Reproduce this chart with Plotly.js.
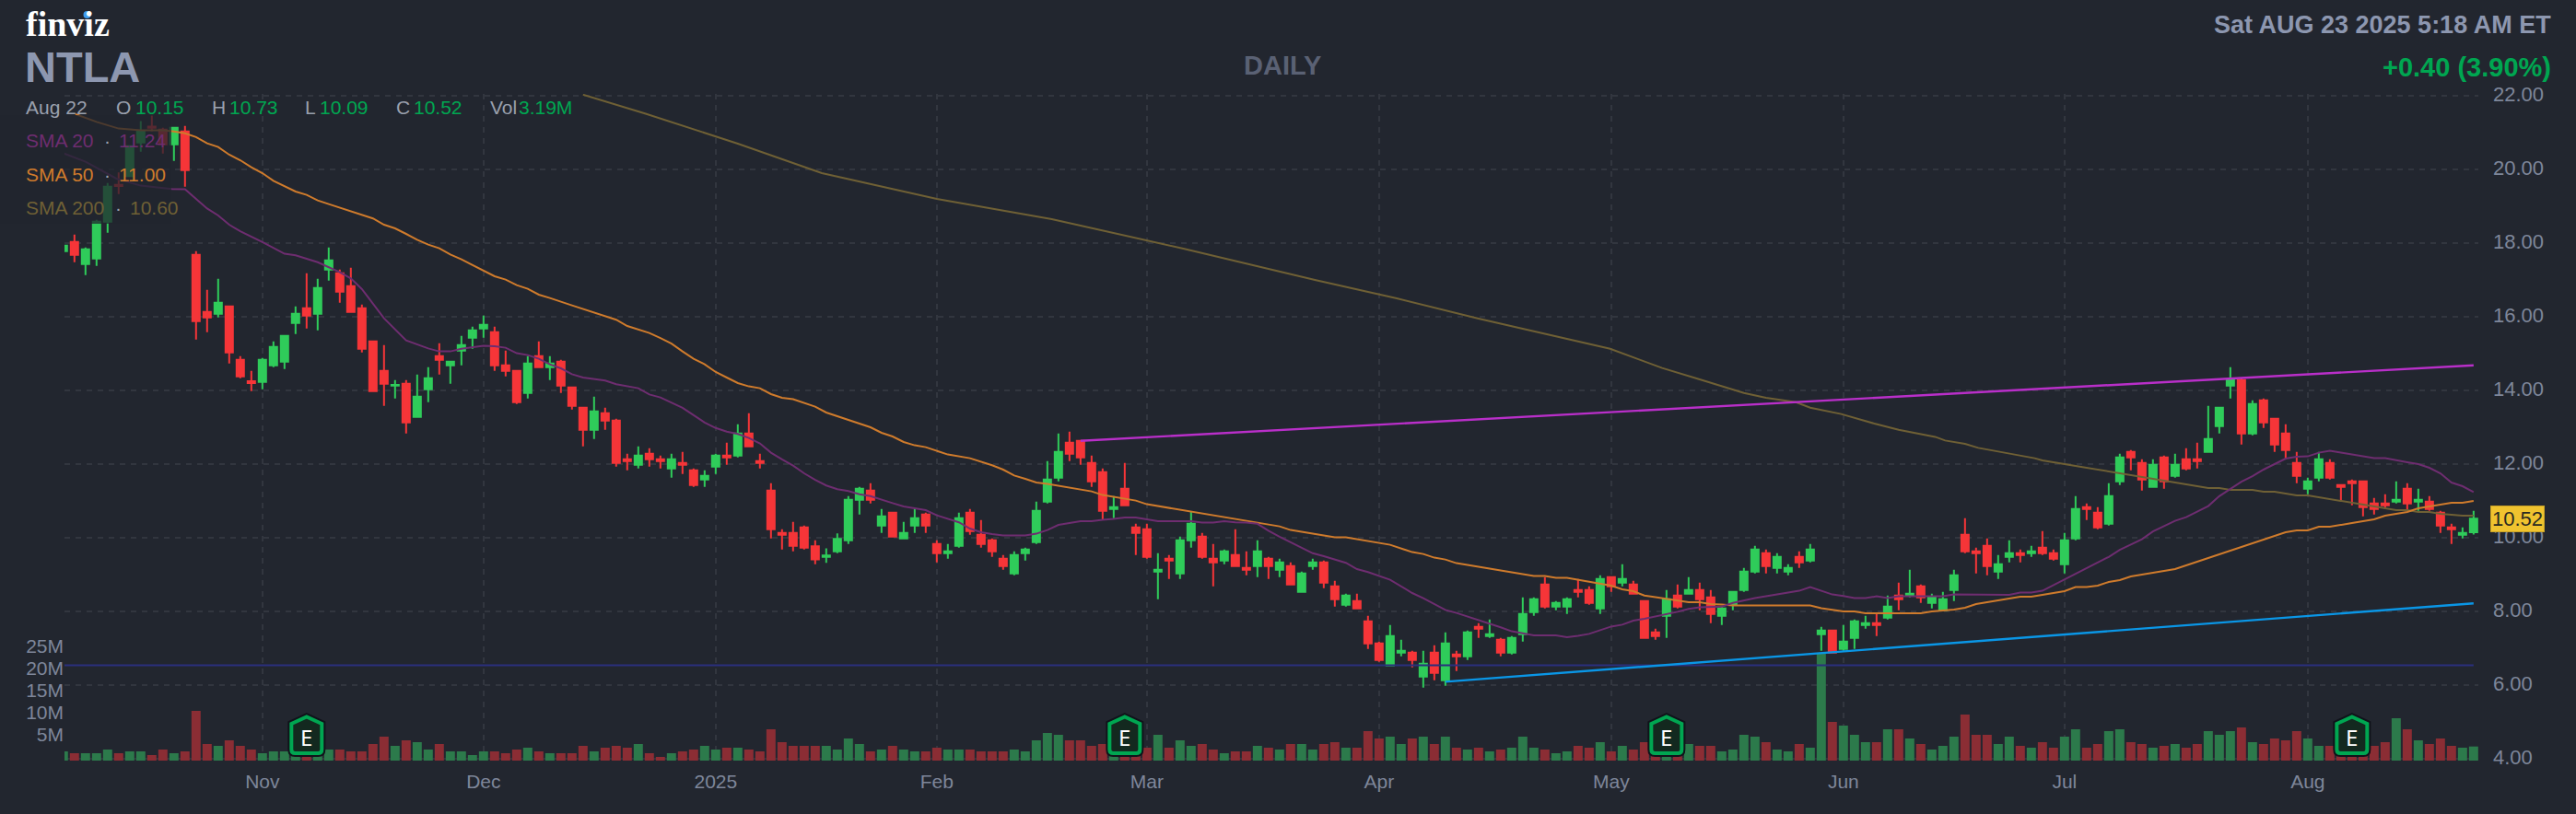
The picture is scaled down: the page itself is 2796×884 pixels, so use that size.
<!DOCTYPE html>
<html><head><meta charset="utf-8">
<script src="https://cdn.plot.ly/plotly-3.0.1.min.js"></script>
<style>html,body{margin:0;padding:0;background:#22262f}#c{width:2796px;height:884px}</style>
</head><body><div id="c"></div>
<script>
// ---- DATA ----
const open = [
17.78,18.03,17.43,17.58,18.58,19.58,19.82,20.73,21.16,21.08,
20.68,21.03,17.68,16.13,16.08,16.28,14.83,14.25,14.23,14.68,
14.78,15.83,16.23,16.08,17.28,17.18,16.83,16.23,15.33,14.53,
14.13,14.18,13.28,14.03,14.93,14.68,15.08,15.43,15.68,15.58,
14.68,14.53,13.93,14.93,14.63,14.78,14.08,13.53,12.93,13.38,
13.18,12.13,11.98,12.28,12.13,11.88,12.03,11.83,11.58,11.93,
12.23,12.23,12.83,12.08,11.28,10.13,10.13,10.28,9.77,9.48,
9.63,9.93,11.03,11.28,10.33,10.68,9.98,10.33,10.63,9.83,
9.58,9.78,10.68,10.08,9.93,9.43,9.03,9.58,9.88,10.98,
11.63,12.58,12.63,12.03,11.78,10.78,11.33,10.28,10.23,9.08,
9.43,9.03,9.93,10.03,9.43,9.38,9.53,9.18,9.23,9.43,
9.13,9.23,8.53,9.23,9.33,8.68,8.18,8.28,7.73,7.13,
6.53,6.88,6.88,6.23,6.88,6.13,6.83,6.78,7.58,7.33,
7.23,6.88,7.38,7.98,8.73,8.13,8.13,8.58,8.58,8.08,
8.93,8.78,8.73,8.28,7.43,7.88,8.43,8.48,8.58,8.38,
7.88,8.18,8.58,9.08,9.58,9.18,9.08,9.48,9.38,7.38,
7.48,6.98,7.28,7.63,7.68,7.83,8.43,8.43,8.68,8.23,
8.03,8.58,10.08,9.63,9.78,9.08,9.48,9.58,9.58,9.73,
9.58,9.28,9.98,10.83,10.68,10.38,11.53,12.33,12.03,11.38,
12.18,11.68,12.13,12.13,12.33,13.03,14.13,14.28,12.83,13.73,
13.23,12.83,12.03,11.33,11.63,12.03,11.43,11.53,11.53,10.93,
10.93,10.98,11.33,10.98,10.98,10.68,10.28,10.08,10.15];
const high = [
17.93,18.23,17.88,18.63,19.63,19.92,20.65,21.31,21.46,21.13,
21.13,21.18,17.78,16.73,17.03,16.28,14.93,14.53,14.88,15.33,
15.48,16.28,17.18,17.03,17.88,17.28,17.33,16.33,15.33,15.23,
14.28,14.28,14.43,14.63,15.28,14.78,15.48,15.73,16.03,15.73,
15.08,14.53,14.93,15.33,14.93,14.83,14.08,13.53,13.83,13.53,
13.23,12.28,12.48,12.43,12.23,12.28,12.33,11.88,11.83,12.28,
12.58,13.08,13.38,12.28,11.48,10.23,10.43,10.33,9.93,9.71,
10.12,11.13,11.38,11.48,10.78,10.68,10.43,10.78,10.68,9.93,
9.83,10.68,10.78,10.48,9.98,9.53,9.63,9.73,10.98,12.08,
12.83,12.88,12.63,12.23,11.88,11.13,12.03,10.38,10.38,9.58,
9.53,10.03,10.71,10.13,9.83,9.68,10.23,9.63,9.93,9.48,
9.43,9.33,9.08,9.43,9.38,8.83,8.48,8.48,7.88,7.18,
7.63,7.23,6.93,6.93,7.08,7.43,6.93,7.48,7.68,7.78,
7.28,7.33,8.38,8.38,8.93,8.28,8.38,8.88,8.68,8.98,
8.93,9.28,8.83,8.28,7.53,8.58,8.73,8.93,8.78,8.58,
8.13,8.53,9.18,9.78,9.68,9.58,9.28,9.63,9.83,7.58,
7.48,7.63,7.78,7.88,7.93,8.43,8.78,9.13,8.73,8.48,
8.53,9.13,10.53,9.73,9.98,9.53,9.93,9.68,9.78,10.18,
9.68,10.13,11.13,10.93,10.83,11.48,12.28,12.38,12.13,12.13,
12.23,12.28,12.43,12.58,13.58,13.53,14.63,14.33,13.73,13.78,
13.23,13.08,12.33,11.63,12.33,12.13,11.43,11.58,11.53,11.08,
11.18,11.53,11.48,11.33,11.13,10.73,10.38,10.28,10.73];
const low = [
17.78,17.48,17.13,17.38,18.28,19.33,19.8,20.48,21.04,20.43,
20.23,19.53,15.38,15.58,15.98,14.73,14.33,13.98,14.03,14.63,
14.58,15.53,15.68,15.63,16.98,16.38,16.12,15.03,13.98,13.58,
13.78,12.83,13.28,13.68,14.43,14.18,14.68,15.13,15.43,14.53,
14.38,13.63,13.78,14.62,14.28,13.93,13.48,12.48,12.68,12.93,
11.93,11.83,11.88,11.93,11.88,11.63,11.73,11.38,11.38,11.73,
11.98,12.18,12.47,11.88,9.98,9.68,9.63,9.68,9.28,9.32,
9.58,9.83,10.63,10.93,10.13,10.02,9.97,10.13,10.13,9.33,
9.43,9.73,10.08,9.73,9.48,9.13,8.98,9.38,9.83,10.93,
11.53,12.08,11.98,11.38,10.48,10.53,10.87,9.53,9.43,8.33,
8.88,8.88,9.73,9.43,8.68,9.28,9.22,8.98,8.93,8.88,
8.93,8.72,8.52,9.13,8.63,8.13,8.13,8.07,6.98,6.63,
6.52,6.78,6.48,5.93,6.13,5.98,6.38,6.68,7.28,7.28,
6.78,6.83,7.18,7.88,8.08,8.03,7.93,8.38,8.18,7.93,
8.53,8.68,8.47,7.28,7.23,7.28,8.08,8.47,8.03,7.68,
7.63,8.03,8.53,9.03,9.03,9.03,8.98,9.18,9.33,6.93,
6.87,6.93,6.98,7.53,7.33,7.78,8.03,8.38,8.23,8.08,
8.02,8.28,9.58,9.03,8.98,8.88,9.33,9.33,9.48,9.53,
9.38,9.03,9.93,10.48,10.23,10.33,11.43,11.83,11.28,11.37,
11.33,11.63,11.83,11.88,12.32,12.83,13.78,12.53,12.78,12.98,
12.33,12.13,11.48,11.18,11.53,11.58,10.98,10.88,10.58,10.63,
10.78,10.93,10.73,10.73,10.73,10.13,9.83,9.98,10.09];
const close = [
17.93,17.68,17.83,18.58,19.53,19.55,20.63,21.03,21.13,20.68,
21.13,19.98,15.88,15.98,16.38,15.03,14.38,14.2,14.83,15.18,
15.48,16.08,16.03,16.78,17.53,16.68,16.13,15.13,13.98,14.18,
14.15,13.13,13.83,14.33,14.83,14.78,15.23,15.63,15.78,14.68,
14.53,13.68,14.73,14.63,14.73,14.13,13.58,12.93,13.43,13.18,
12.03,12.08,12.23,12.13,12.08,12.13,11.98,11.43,11.68,12.23,
12.18,12.83,12.48,12.03,10.23,10.08,9.78,9.73,9.41,9.52,
9.97,11.03,11.33,11.03,10.58,10.03,10.13,10.53,10.33,9.58,
9.63,10.53,10.18,9.83,9.63,9.23,9.53,9.68,10.73,11.58,
12.33,12.28,12.18,11.53,10.73,10.83,10.88,10.13,9.48,9.13,
9.38,9.93,10.38,9.48,9.33,9.63,9.23,9.13,9.63,9.23,
9.33,8.73,9.03,9.33,8.78,8.33,8.43,8.08,7.13,6.68,
7.33,6.93,6.68,6.58,6.33,7.13,6.78,7.43,7.53,7.38,
6.88,7.28,7.93,8.33,8.13,8.23,8.33,8.53,8.23,8.88,
8.68,8.88,8.48,7.28,7.33,8.33,8.13,8.58,8.33,7.93,
8.08,8.53,9.08,9.68,9.23,9.48,9.18,9.33,9.68,7.48,
6.88,7.18,7.73,7.68,7.63,8.13,8.33,8.48,8.38,8.38,
8.33,8.98,9.63,9.58,9.23,9.28,9.58,9.53,9.63,9.58,
9.43,9.93,10.78,10.78,10.28,11.13,12.18,12.18,11.58,11.98,
11.53,11.98,11.88,12.08,12.68,13.53,14.28,12.83,13.63,13.13,
12.53,12.38,11.68,11.53,12.13,11.63,11.38,11.48,10.83,10.78,
10.88,11.03,10.93,11.03,10.78,10.33,10.23,10.13,10.52];
const volumeM = [
2.08,1.67,1.67,1.67,2.5,1.67,2.08,2.08,1.25,2.5,
1.67,2.08,11.25,3.75,3.33,4.58,3.33,2.5,1.67,2.08,
2.08,1.67,1.25,1.67,2.5,2.5,2.08,2.08,3.75,5.42,
3.33,4.58,4.17,2.5,3.75,2.08,2.08,1.25,2.08,2.08,
1.67,2.5,2.92,2.08,1.67,1.67,1.67,3.33,2.08,2.92,
3.33,2.92,3.75,1.67,0.83,1.67,2.08,2.5,3.33,2.5,
2.92,2.92,2.5,2.08,7.08,4.17,3.33,3.33,3.33,3.33,
2.5,5,3.75,2.08,2.5,3.33,2.5,2.08,2.08,2.92,
2.5,2.5,2.5,2.08,2.08,2.08,2.5,2.08,4.58,6.25,
5.83,4.58,4.58,3.33,3.75,1.25,1.25,1.25,2.92,5.83,
2.92,4.58,3.33,3.75,2.5,1.67,2.08,2.08,3.33,2.92,
2.5,3.75,3.75,2.5,3.75,4.17,2.92,2.92,6.67,5,
5.42,3.75,5,5.42,3.75,5.42,2.92,2.5,2.92,2.08,
2.5,2.92,5.42,2.92,2.5,1.67,2.08,3.33,2.92,4.17,
2.08,3.33,2.5,4.17,1.25,1.25,1.25,3.75,3.33,3.33,
2.08,2.5,5.83,5.42,4.17,2.5,2.08,3.75,2.92,24.17,
8.75,7.92,5.83,4.17,4.17,7.08,7.08,5,3.75,2.5,
3.33,5.42,10.42,5.83,5.83,3.75,5.42,3.33,2.92,4.17,
2.92,5.42,7.08,2.92,3.75,6.67,7.08,4.17,3.75,2.92,
3.33,3.75,2.92,3.75,6.67,5.83,6.67,7.5,4.17,3.75,
5,4.58,6.67,5,3.33,3.33,2.08,1.67,1.67,3.33,
4.17,9.58,7.08,4.58,3.75,5,3.33,2.92,3.19];
const sma20Points = [
[0,20.44],[2,20.21],[4.8,19.75],[7,19.56],[9.8,19.47],[11,19.46],[13,18.94],[14,18.75],[15,18.5],[16,18.32],[18,18.03],[20,17.71],[21,17.67],[23,17.48],[25,17.21],[26,17.04],[27,16.75],[29,15.96],[31,15.36],[33,15.14],[34,15.06],[35,15.06],
[36,15.13],[37,15.17],[38,15.21],[39,15.2],[40,15.16],[41,15.01],[42,14.96],[43,14.86],[44,14.71],[45,14.6],[46,14.44],[47,14.35],[49,14.27],[50,14.17],[52,14.06],[53,13.89],[54,13.81],[56,13.53],[57,13.32],[58,13.13],[59,12.98],[60,12.88],[61,12.82],[62,12.71],[63,12.56],[64,12.31],[65,12.13],[66,11.96],[67,11.75],[68,11.57],[69,11.42],[70,11.32],[71,11.27],
[72,11.18],[73,11.13],[74,11.03],[75,10.94],[76,10.85],[78,10.75],[79,10.61],[80,10.52],[81,10.42],[82,10.25],[83,10.15],[84,10.1],[85,10.06],[87,10.06],[88,10.11],[89,10.21],[90,10.35],[91,10.4],[92,10.45],[93,10.45],[94,10.49],[95,10.51],[96,10.55],[97,10.55],[98,10.5],[99,10.45],[102,10.45],[103,10.41],[104,10.41],[105,10.45],[106,10.42],[107,10.41],
[108,10.38],[109,10.19],[110,10.03],[111,9.88],[113,9.58],[114,9.5],[116,9.32],[117,9.15],[118,9.07],[120,8.86],[121,8.69],[122,8.5],[123,8.36],[124,8.21],[125,8.04],[126,7.96],[128,7.77],[129,7.67],[130,7.57],[131,7.46],[132,7.4],[133,7.35],[135,7.35],[136,7.3],[137,7.34],[138,7.39],[139,7.49],[140,7.59],[141,7.64],[142,7.75],[143,7.8],
[145,7.92],[146,7.99],[147,8.07],[148,8.11],[150,8.13],[151,8.23],[153,8.36],[155,8.46],[157,8.56],[158,8.66],[159,8.56],[160,8.46],[161,8.42],[162,8.36],[163,8.36],[164,8.41],[165,8.36],[166,8.41],[168,8.41],[170,8.41],[171,8.46],[173,8.45],[176,8.45],[177,8.51],[178,8.51],
[179,8.56],[180,8.71],[181,8.86],[182,9.02],[183,9.17],[185,9.48],[186,9.67],[188,9.96],[189,10.17],[190,10.31],[191,10.46],[192,10.56],[193,10.71],[194,10.86],[195,11.13],[196,11.33],[197,11.52],[198,11.67],[199,11.85],[200,12],[201,12.15],[202,12.2],[203,12.21],[204,12.31],[205,12.36],[206,12.31],[207,12.26],[208,12.21],[209,12.16],[210,12.16],[211,12.1],[212,12.05],[213,12],[214,11.9],[215,11.75],[216,11.5],[217,11.4],[218,11.24]];
const sma50Points = [
[1.1,21.5],[3,21.29],[5,21.11],[7,21.06],[9,21.06],[10,21.03],[11,20.98],[12,20.88],[13,20.71],[14,20.61],[15,20.4],[16,20.25],[17,20.06],[18,19.9],[19,19.69],[20,19.54],[21,19.4],[22,19.31],[23,19.16],[24,19.06],[25,18.96],[26,18.87],[27,18.77],[28,18.67],[29,18.5],[30,18.4],[31,18.25],[32,18.09],[33,17.96],[34,17.86],[35,17.69],[36,17.56],
[39,17.1],[40,17.01],[41,16.86],[42,16.76],[43,16.6],[44,16.51],[46,16.31],[48,16.12],[50,15.92],[51,15.75],[53,15.56],[54,15.42],[55,15.27],[56,15.06],[57,14.86],[58,14.71],[59,14.5],[60,14.35],[61,14.2],[62,14.11],[63,14.06],[64,13.9],[65,13.8],[66,13.76],[68,13.56],[69,13.4],[70,13.3],[71,13.2],
[72,13.11],[73,13],[74,12.85],[75,12.75],[76,12.6],[77,12.51],[78,12.46],[79,12.36],[80,12.26],[82,12.16],[83,12.06],[84,11.97],[85,11.85],[86,11.69],[87,11.6],[88,11.5],[89,11.46],[91,11.36],[93,11.26],[94,11.16],[95,11.11],[97,11.01],[98,10.91],[100,10.81],[102,10.71],[104,10.61],[106,10.52],[107,10.47],
[110,10.31],[111,10.21],[115,10.01],[116,10.01],[120,9.81],[122,9.61],[123,9.56],[124,9.46],[125,9.41],[126,9.31],[128,9.21],[132,9.01],[133,8.96],[134,8.96],[135,8.91],[136,8.91],[138,8.81],[139,8.76],[140,8.7],[141,8.6],[142,8.55],[143,8.43],
[144,8.39],[147,8.25],[148,8.25],[149,8.2],[150,8.19],[151,8.16],[158,8.16],[159,8.09],[161,8],[162,8],[163,7.95],[168,7.95],[169,8],[171,8.05],[172,8.1],[173,8.2],[174,8.25],[177,8.4],[178,8.4],
[179,8.45],[181,8.55],[182,8.66],[183,8.66],[184,8.7],[185,8.8],[186,8.85],[187,8.95],[189,9.05],[191,9.15],[192,9.25],[194,9.45],[196,9.65],[198,9.85],[200,10.05],[201,10.15],[202,10.2],[203,10.2],[204,10.3],[205,10.3],[207,10.4],[209,10.5],[210,10.6],[211,10.65],[212,10.7],[213,10.8],[214,10.85],[215,10.9],[216,10.95],[217,10.95],[218,11.0]];
const sma200Points = [
[47,22.03],[52.6,21.52],[61,20.7],[68.6,19.9],[79,19.2],[89.4,18.65],[101.3,17.85],[113.2,17.0],[120.6,16.5],[128,15.95],[139.9,15.13],
[144.6,14.61],[148,14.3],[152,13.93],[154,13.8],[156.7,13.68],[158,13.53],[160.8,13.36],[163.8,13.1],[166,12.93],[169.3,12.74],[170.2,12.64],[172,12.55],[173.2,12.44],
[178.3,12.16],[179,12.1],[181,12],[184,11.85],[187,11.7],[190,11.55],[192,11.45],[194,11.35],[195,11.35],[196,11.3],[198,11.3],[199,11.25],[200,11.25],[202,11.15],[203,11.15],[206,11],[208,10.9],[210,10.8],[211,10.75],[212,10.75],[213,10.7],[214,10.7],[215,10.65],[217,10.6],[218,10.6]];
const resistancePoints = [[92,12.63],[218,14.68]];
const supportPoints = [[125,6.09],[218,8.22]];
const levelPoints = [[0.1,6.54],[218,6.54]];
const monthTickIdx = [18,38,59,79,98,119,140,161,181,203];
const monthTickLabels = ['Nov','Dec','2025','Feb','Mar','Apr','May','Jun','Jul','Aug'];
const priceTicks = [4,6,8,10,12,14,16,18,20,22];
const priceTickLabels = ['4.00','6.00','8.00','10.00','12.00','14.00','16.00','18.00','20.00','22.00'];
const volumeTicks = [5e6,10e6,15e6,20e6,25e6];
const volumeTickLabels = ['5M','10M','15M','20M','25M'];
const earningsIdx = [22,96,145,207];

// ---- STYLE ----
const BG='#22262f', GRID='#32363f', AX='#7e869a';
const UP='#2fcc5a', DOWN='#f63538', VUP='#2c7a4b', VDOWN='#8b2d34';
const L=70,R=2690,T=102,B=826;
const px=x=>(x-L)/(R-L), py=y=>1-(y-T)/(B-T);
const idx=open.map((_,i)=>i);
const xs=a=>a.map(p=>p[0]), ys=a=>a.map(p=>p[1]);
const line=(pts,color,width)=>({type:'scatter',mode:'lines',x:xs(pts),y:ys(pts),yaxis:'y2',hoverinfo:'skip',showlegend:false,line:{color,width}});

const traces=[
 {type:'bar',x:idx,y:volumeM.map(v=>v*1e6),yaxis:'y',showlegend:false,hoverinfo:'skip',
  marker:{color:idx.map(i=>close[i]>=open[i]?VUP:VDOWN),line:{width:0}}},
 {type:'candlestick',x:idx,open,high,low,close,yaxis:'y2',showlegend:false,hoverinfo:'skip',
  increasing:{line:{color:UP,width:2},fillcolor:UP},decreasing:{line:{color:DOWN,width:2},fillcolor:DOWN}},
 line(levelPoints,'#2a2f7d',2),
 line(sma200Points,'#6f6035',2),
 line(sma50Points,'#cf7b2c',2),
 line(sma20Points,'#6e2d70',2),
 line(resistancePoints,'#b92fc9',2.4),
 line(supportPoints,'#0a96e6',2.4)
];

const ann=(text,x,y,size,color,opt={})=>Object.assign({text,xref:'paper',yref:'paper',x:px(x),y:py(y),xanchor:'left',yanchor:'middle',showarrow:false,
  font:{size,color,family:'"Liberation Sans",Arial,sans-serif'}},opt);
const bold=(f)=>`<b>${f}</b>`;
const G='#00a651', LBL='#9aa0ad';
const annotations=[
 ann('<b>finviz</b>',26,26,38,'#ffffff',{font:{size:38,color:'#ffffff',family:'"Liberation Serif",serif'}}),
 ann(bold('NTLA'),25,73,47,'#8d97b0'),
 ann(bold('DAILY'),1392,71,29,'#5a6174',{xanchor:'center'}),
 ann(bold('Sat AUG 23 2025 5:18 AM ET'),2771,27,27,'#8d97b0',{xanchor:'right'}),
 ann(bold('+0.40 (3.90%)'),2771,73,29,G,{xanchor:'right'}),
 ann('Aug 22',26,117,21,LBL),
 ann('O',124,117,21,LBL),ann('10.15',145,117,21,G),
 ann('H',228,117,21,LBL),ann('10.73',247,117,21,G),
 ann('L',329,117,21,LBL),ann('10.09',345,117,21,G),
 ann('C',428,117,21,LBL),ann('10.52',447,117,21,G),
 ann('Vol',530,117,21,LBL),ann('3.19M',561,117,21,G),
 ann('SMA 20',26,153,21,'#6e2d70'),ann('·',111,153,21,LBL),ann('11.24',127,153,21,'#6e2d70'),
 ann('SMA 50',26,189,21,'#cf7b2c'),ann('·',111,189,21,LBL),ann('11.00',127,189,21,'#cf7b2c'),
 ann('SMA 200',26,225,21,'#6f6035'),ann('·',123,225,21,LBL),ann('10.60',139,225,21,'#6f6035'),
 {text:'10.52',xref:'paper',yref:'y2',x:px(2732),y:10.52,xanchor:'center',yanchor:'middle',showarrow:false,
  font:{size:22,color:'#2a2a22',family:'"Liberation Sans",Arial,sans-serif'},bgcolor:'#f0c32f',bordercolor:'#c9a227',borderwidth:1,borderpad:1}
].concat(earningsIdx.map(i=>({text:'E',xref:'x',yref:'paper',x:i,y:py(800),xanchor:'center',yanchor:'middle',showarrow:false,
  font:{size:24,color:'#ffffff',family:'"Noto Sans",sans-serif'}})));

const badgePath='M -16.5 -16 L -16.5 12 L 0 19.5 L 16.5 12 L 16.5 -16 Q 16.5 -20 12.5 -20 L -12.5 -20 Q -16.5 -20 -16.5 -16 Z';
const shapes=[
 {type:'rect',xref:'paper',yref:'paper',x0:px(0),x1:px(186),y0:py(125),y1:py(243),fillcolor:BG,opacity:0.75,line:{width:0},layer:'above'}
].concat(earningsIdx.flatMap(i=>{
  const base={type:'path',xref:'x',yref:'paper',xsizemode:'pixel',ysizemode:'pixel',xanchor:i,yanchor:py(798),path:badgePath,layer:'above'};
  return [Object.assign({},base,{line:{color:'#10131a',width:8},fillcolor:'#10131a'}),
          Object.assign({},base,{line:{color:'#00a651',width:4},fillcolor:'#13291f'})];
})).concat([{type:'circle',xref:'paper',yref:'paper',x0:px(90.5),x1:px(98.5),y0:py(12),y1:py(20),fillcolor:'#3f9cf0',line:{width:0},layer:'above'}]);

const layout={
 width:2796,height:884,paper_bgcolor:BG,plot_bgcolor:BG,showlegend:false,hovermode:false,
 margin:{l:L,r:2796-R,t:T,b:884-B,pad:0},
 boxgap:0.333,boxgroupgap:0,bargap:0.17,
 font:{family:'"Liberation Sans",Arial,sans-serif',size:21,color:AX},
 xaxis:{range:[0.1,218.43],tickmode:'array',tickvals:monthTickIdx,ticktext:monthTickLabels,tickangle:0,
  rangeslider:{visible:false},showgrid:true,gridcolor:GRID,griddash:'6px,6px',gridwidth:2,zeroline:false,showline:false,ticks:'',
  tickfont:{size:21,color:AX},ticklabelstandoff:8},
 yaxis:{range:[0,150.8e6],side:'left',tickmode:'array',tickvals:volumeTicks,ticktext:volumeTickLabels,showgrid:false,zeroline:false,showline:false,ticks:'',
  tickfont:{size:21,color:AX},ticklabelshift:-4},
 yaxis2:{overlaying:'y',side:'right',range:[3.95,22.05],tickmode:'array',tickvals:priceTicks,ticktext:priceTickLabels,
  showgrid:true,gridcolor:GRID,griddash:'6px,6px',gridwidth:2,zeroline:false,showline:false,ticks:'',
  tickfont:{size:22,color:AX},ticklabelshift:-2,ticklabelstandoff:15},
 annotations,shapes
};
Plotly.newPlot('c',traces,layout,{staticPlot:true,displayModeBar:false});
</script></body></html>
